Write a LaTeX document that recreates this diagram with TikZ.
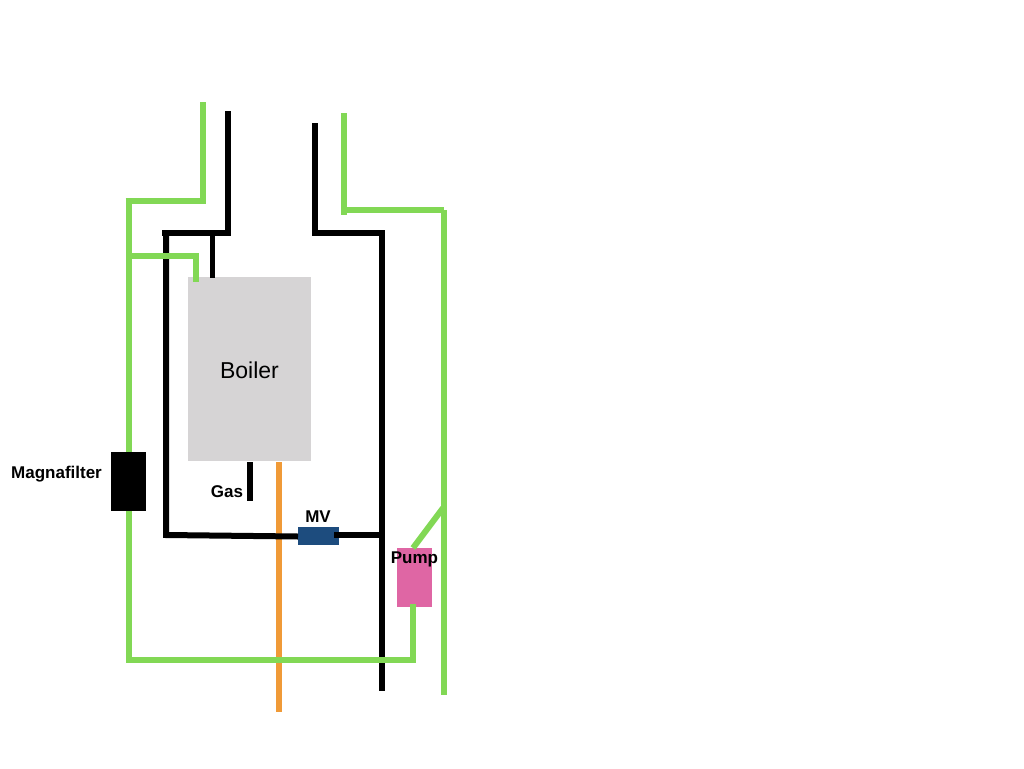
\documentclass[tikz,border=0pt]{standalone}
\usepackage{fontspec}
\setmainfont{Liberation Sans}
\definecolor{pipegreen}{HTML}{82D855}
\definecolor{pipeorange}{HTML}{F09A37}
\definecolor{boilergrey}{HTML}{D6D4D5}
\definecolor{valveblue}{HTML}{1D4C7E}
\definecolor{pumppink}{HTML}{DF66A4}
\tikzset{
  greenpipe/.style={draw=pipegreen,line width=6pt,line cap=butt,line join=miter},
  blackpipe/.style={draw=black,line width=6pt,line cap=butt,line join=miter},
  thinblack/.style={draw=black,line width=5pt},
  orangepipe/.style={draw=pipeorange,line width=6pt},
  unitbox/.style={minimum width=#1,inner sep=0pt,outer sep=0pt,anchor=north west},
  smalllabel/.style={font=\bfseries\fontsize{17}{17}\selectfont,inner sep=0pt,text=black},
}
\begin{document}
\begin{tikzpicture}[x=1pt,y=-1pt]
\useasboundingbox (0,0) rectangle (1024,768);
% boxes
\node[unitbox=123pt,minimum height=184pt,fill=boilergrey] (boiler) at (188,277) {};
\node[unitbox=35pt,minimum height=59pt,fill=black] (filter) at (111,452) {};
\node[unitbox=41pt,minimum height=18pt,fill=valveblue] (mv) at (298,527) {};
\node[unitbox=35.5pt,minimum height=59pt,fill=pumppink] (pump) at (396.5,548) {};
% free ends and corners
\coordinate (flueL) at (228,111);
\coordinate (flueLb) at (228,233.3);
\coordinate (capL) at (162,233.3);
\coordinate (capLend) at (230.7,233.3);
\coordinate (leftTop) at (166,233.3);
\coordinate (leftBot) at (166,535);
\coordinate (flueR) at (315,123);
\coordinate (flueRb) at (315,236);
\coordinate (capRs) at (312.3,233.3);
\coordinate (rightCorner) at (382,233.3);
\coordinate (rightEnd) at (382,691);
\coordinate (stubTop) at (212.3,233);
\coordinate (stubBot) at (212.3,278);
\coordinate (gasTop) at (249.5,462);
\coordinate (gasBot) at (249.5,500.5);
\coordinate (orTop) at (279,462);
\coordinate (orBot) at (279,712);
\coordinate (mvLeft) at (298,536.5);
\coordinate (mvStub) at (334,534.7);
\coordinate (mvRight) at (385,534.7);
\coordinate (gA) at (203.4,102);
\coordinate (gAb) at (203.4,204);
\coordinate (gB) at (125.7,201.3);
\coordinate (gBc) at (128.7,201.3);
\coordinate (gBd) at (203.4,201.3);
\coordinate (gFilterTop) at (128.7,452);
\coordinate (gFilterBot) at (128.7,511);
\coordinate (gLeftBot) at (128.7,660);
\coordinate (gBranch) at (128.7,256.3);
\coordinate (gBranchC) at (196,256.3);
\coordinate (gBranchE) at (196,281.7);
\coordinate (gR) at (344,113);
\coordinate (gRb) at (344,215);
\coordinate (gRh) at (344,210);
\coordinate (gRc) at (444.3,210);
\coordinate (gRe) at (444.3,695);
\coordinate (gJoin) at (443,508);
\coordinate (pumpTop) at (413,548);
\coordinate (pumpBot) at (413,604);
\coordinate (pumpCorner) at (413,660);
% orange
\draw[orangepipe] (orTop) -- (orBot);
% black
\draw[blackpipe] (flueL) -- (flueLb);
\draw[blackpipe] (capL) -- (capLend);
\draw[blackpipe] (leftTop) -- (leftBot) -- (mvLeft);
\draw[blackpipe] (flueR) -- (flueRb);
\draw[blackpipe] (capRs) -- (rightCorner) -- (rightEnd);
\draw[thinblack] (stubTop) -- (stubBot);
\draw[blackpipe] (gasTop) -- (gasBot);
\draw[blackpipe] (mvStub) -- (mvRight);
% green
\draw[greenpipe] (gA) -- (gAb);
\draw[greenpipe] (gB) -- (gBd);
\draw[greenpipe] (gBc) -- (gFilterTop);
\draw[greenpipe] (gFilterBot) -- (gLeftBot) -- (pumpCorner) -- (pumpBot);
\draw[greenpipe] (gBranch) -- (gBranchC) -- (gBranchE);
\draw[greenpipe] (gR) -- (gRb);
\draw[greenpipe] (gRh) -- (gRc);
\draw[greenpipe] (gRc) -- (gRe);
\draw[greenpipe] (pumpTop) -- (gJoin);
% labels
\node[font=\fontsize{23}{23}\selectfont,inner sep=0pt] (boilerlabel) at (249.5,370.5) {Boiler};
\node[smalllabel] (maglabel) at (56.5,474.5) {Magnafilter};
\node[smalllabel] (gaslabel) at (227,492) {Gas};
\node[smalllabel] (mvlabel) at (318,517) {MV};
\node[smalllabel] (pumplabel) at (414.5,559) {Pump};
\end{tikzpicture}
\end{document}
